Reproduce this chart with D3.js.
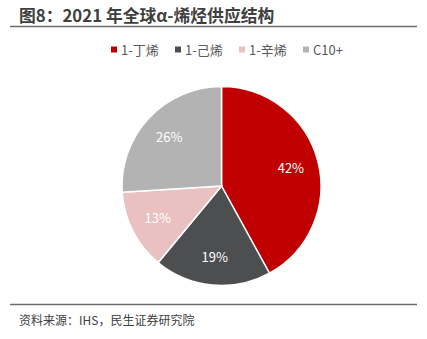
<!DOCTYPE html>
<html><head><meta charset="utf-8">
<script src="https://cdn.jsdelivr.net/npm/d3@7"></script>
<style>body{margin:0;background:#fff}svg{display:block}</style>
</head><body>
<script>
const categories = ["1-丁烯", "1-己烯", "1-辛烯", "C10+"];
const values = [42, 19, 13, 26];
const colors = ["#C00000", "#4D4E50", "#EAC1C1", "#B3B3B3"];
const title = "图8：2021 年全球α-烯烃供应结构";
const source = "资料来源：IHS，民生证券研究院";

const W = 427, H = 339;
const svg = d3.select("body").append("svg").attr("width", W).attr("height", H);
const font = "'Microsoft YaHei','Noto Sans CJK SC','Noto Sans',sans-serif";

svg.append("text").attr("x", 19).attr("y", 22).attr("font-family", font)
  .attr("font-size", 16.8).attr("font-weight", "bold").attr("fill", "#404040").text(title);
svg.append("line").attr("x1", 10).attr("x2", 417).attr("y1", 26.5).attr("y2", 26.5)
  .attr("stroke", "#6b6b6b").attr("stroke-width", 1.5);
svg.append("line").attr("x1", 10).attr("x2", 417).attr("y1", 304.5).attr("y2", 304.5)
  .attr("stroke", "#6b6b6b").attr("stroke-width", 1.5);
svg.append("text").attr("x", 19).attr("y", 325).attr("font-family", font)
  .attr("font-size", 12).attr("fill", "#404040").text(source);

// legend
const legX = [111, 175, 239, 303];
const lg = svg.append("g");
categories.forEach((c, i) => {
  const g = lg.append("g").attr("transform", `translate(${legX[i]},50)`);
  g.append("rect").attr("x", 0).attr("y", -3.5).attr("width", 6).attr("height", 6).attr("fill", colors[i]);
  g.append("text").attr("x", 10).attr("y", 5).attr("font-family", font).attr("font-size", 13)
    .attr("fill", "#595959").text(c);
});

const cx = 221.5, cy = 186, r = 99.5;
const pie = d3.pie().sort(null).value(d => d);
const arcs = pie(values);
const arc = d3.arc().innerRadius(0).outerRadius(r);
const labelArc = d3.arc().innerRadius(r * 0.72).outerRadius(r * 0.72);
const g = svg.append("g").attr("transform", `translate(${cx},${cy})`);
g.selectAll("path").data(arcs).join("path").attr("d", arc)
  .attr("fill", (d, i) => colors[i]).attr("stroke", "#fff").attr("stroke-width", 1.5);
g.selectAll("text").data(arcs).join("text")
  .attr("transform", d => `translate(${labelArc.centroid(d)})`)
  .attr("text-anchor", "middle").attr("dy", "0.35em")
  .attr("font-family", font).attr("font-size", 13).attr("fill", "#fff")
  .text(d => d.data + "%");
</script>
</body></html>
